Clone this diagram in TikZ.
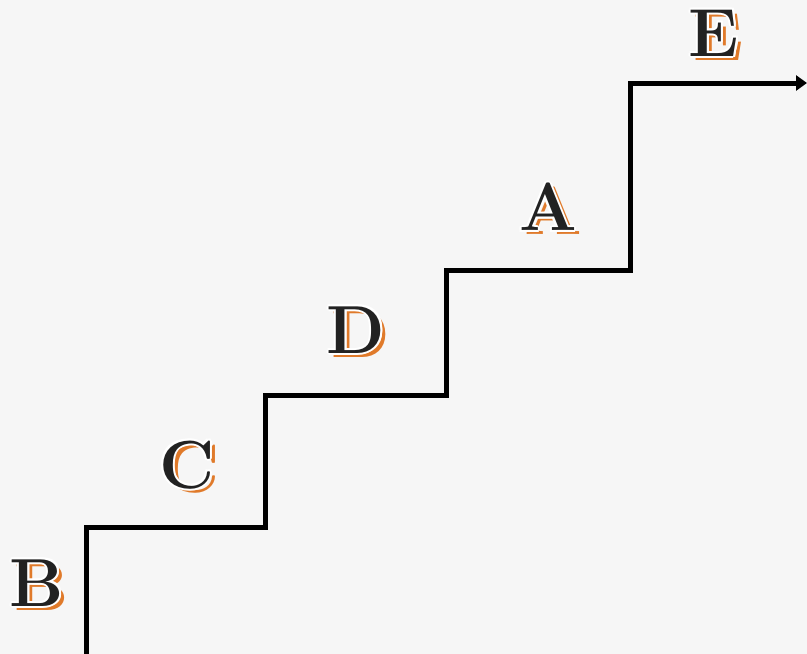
\documentclass[tikz,border=0pt]{standalone}
\usetikzlibrary{arrows.meta}
\definecolor{fondo}{RGB}{246,246,246}
\definecolor{naranja}{RGB}{224,122,42}
\definecolor{oscuro}{RGB}{34,34,34}
% una capa de la letra, desplazada (dx, dy) y coloreada
\newcommand{\capa}[4]{\makebox[0pt][l]{\hspace*{#1}\raisebox{#2}{\textcolor{#3}{#4}}}}
% letra con sombra naranja y contorno blanco
\newcommand{\letrasombra}[1]{%
  \capa{5pt}{-4pt}{naranja}{#1}%
  \capa{2pt}{0pt}{white}{#1}\capa{-2pt}{0pt}{white}{#1}%
  \capa{0pt}{2pt}{white}{#1}\capa{0pt}{-2pt}{white}{#1}%
  \capa{1.5pt}{1.5pt}{white}{#1}\capa{-1.5pt}{1.5pt}{white}{#1}%
  \capa{1.5pt}{-1.5pt}{white}{#1}\capa{-1.5pt}{-1.5pt}{white}{#1}%
  \textcolor{oscuro}{#1}}
\begin{document}
\begin{tikzpicture}[x=1pt,y=-1pt,
    letra/.style={inner sep=0pt,font=\fontsize{68}{68}\selectfont\bfseries},
    escalera/.style={line width=5pt,black,line join=miter}]
    % Fondo y marco del dibujo
    \fill[fondo] (0,0) rectangle (807,654);
    \useasboundingbox (0,0) rectangle (807,654);

    % Esquinas de la escalera
    \coordinate (p0) at (86,656);
    \coordinate (p1) at (86,527);
    \coordinate (p2) at (265,527);
    \coordinate (p3) at (265,395);
    \coordinate (p4) at (446,395);
    \coordinate (p5) at (446,270);
    \coordinate (p6) at (630,270);
    \coordinate (p7) at (630,83);
    \coordinate (p8) at (807,83);
    \draw[escalera,-{Triangle[length=11pt,width=15pt]}]
      (p0) -- (p1) -- (p2) -- (p3) -- (p4) -- (p5) -- (p6) -- (p7) -- (p8);

    % Letras sobre cada peldano
    \node[letra] (lb) at (37,584) {\letrasombra{B}};
    \node[letra] (lc) at (187,466) {\letrasombra{C}};
    \node[letra] (ld) at (356,331) {\letrasombra{D}};
    \node[letra] (la) at (548,208) {\letrasombra{A}};
    \node[letra] (le) at (714,34) {\letrasombra{E}};
\end{tikzpicture}
\end{document}
